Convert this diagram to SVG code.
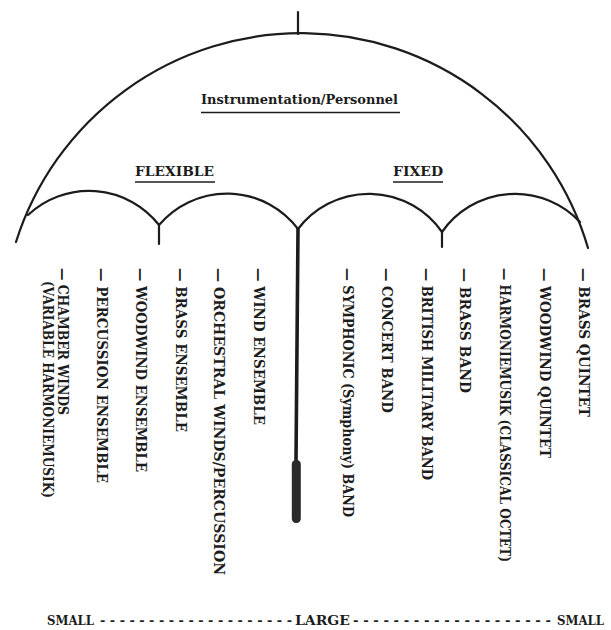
<svg xmlns="http://www.w3.org/2000/svg" width="611" height="630" viewBox="0 0 611 630">
<style>
.ln{fill:none;stroke:#1c1c1c;stroke-width:2.2;stroke-linecap:round;stroke-linejoin:round}
.t{font-family:"DejaVu Serif","Liberation Serif",serif;font-weight:bold;fill:#1c1c1c}
.lb{font-size:14px}
.hd{font-size:13px}
.bt{font-size:12px}
.ul{stroke:#1c1c1c;stroke-width:1.4}
</style>
<rect width="611" height="630" fill="#ffffff"/>
<g id="umbrella">
<path class="ln" d="M298 12 V34"/>
<path class="ln" d="M16 242 A299 299 0 0 1 588 248"/>
<path class="ln" d="M28 215 A89 89 0 0 1 159 225 A89 89 0 0 1 298 229 A89 89 0 0 1 442 232 A89 89 0 0 1 580 222"/>
<path class="ln" d="M159 225 V244 M442 232 V247"/>
<path class="ln" d="M298 229 L296 462" style="stroke-width:3.6"/>
<rect x="291.8" y="460" width="9" height="63" rx="4.2" fill="#2a2a2a"/>
</g>
<g id="headings">
<g id="title"><text class="t hd" x="201" y="104" textLength="197" lengthAdjust="spacingAndGlyphs">Instrumentation/Personnel</text><line class="ul" x1="201" y1="112.5" x2="400" y2="112.5"/></g>
<g id="flexible"><text class="t hd" x="135" y="176" textLength="79" lengthAdjust="spacingAndGlyphs">FLEXIBLE</text><line class="ul" x1="135" y1="182" x2="215" y2="182"/></g>
<g id="fixed"><text class="t hd" x="393" y="176" textLength="50" lengthAdjust="spacingAndGlyphs">FIXED</text><line class="ul" x1="393" y1="182" x2="443" y2="182"/></g>
</g>
<g id="labels">
<g id="chamber-winds"><text class="t lb" transform="translate(58,268) rotate(90)" textLength="147" lengthAdjust="spacingAndGlyphs">— CHAMBER WINDS</text><text class="t lb" transform="translate(43,281) rotate(90)" textLength="217" lengthAdjust="spacingAndGlyphs">(VARIABLE HARMONIEMUSIK)</text></g>
<g id="percussion-ensemble"><text class="t lb" transform="translate(96.5,268) rotate(90)" textLength="215" lengthAdjust="spacingAndGlyphs">— PERCUSSION ENSEMBLE</text></g>
<g id="woodwind-ensemble"><text class="t lb" transform="translate(136,268) rotate(90)" textLength="204" lengthAdjust="spacingAndGlyphs">— WOODWIND ENSEMBLE</text></g>
<g id="brass-ensemble"><text class="t lb" transform="translate(176,268) rotate(90)" textLength="164" lengthAdjust="spacingAndGlyphs">— BRASS ENSEMBLE</text></g>
<g id="orchestral-winds"><text class="t lb" transform="translate(214,268) rotate(90)" textLength="307" lengthAdjust="spacingAndGlyphs">— ORCHESTRAL WINDS/PERCUSSION</text></g>
<g id="wind-ensemble"><text class="t lb" transform="translate(254,268) rotate(90)" textLength="157" lengthAdjust="spacingAndGlyphs">— WIND ENSEMBLE</text></g>
<g id="symphonic-band"><text class="t lb" transform="translate(343,268) rotate(90)" textLength="249" lengthAdjust="spacingAndGlyphs">— SYMPHONIC (Symphony) BAND</text></g>
<g id="concert-band"><text class="t lb" transform="translate(382,268) rotate(90)" textLength="145" lengthAdjust="spacingAndGlyphs">— CONCERT BAND</text></g>
<g id="british-military-band"><text class="t lb" transform="translate(422,268) rotate(90)" textLength="212" lengthAdjust="spacingAndGlyphs">— BRITISH MILITARY BAND</text></g>
<g id="brass-band"><text class="t lb" transform="translate(460,268) rotate(90)" textLength="125" lengthAdjust="spacingAndGlyphs">— BRASS BAND</text></g>
<g id="harmoniemusik"><text class="t lb" transform="translate(500,268) rotate(90)" textLength="294" lengthAdjust="spacingAndGlyphs">— HARMONIEMUSIK (CLASSICAL OCTET)</text></g>
<g id="woodwind-quintet"><text class="t lb" transform="translate(540,268) rotate(90)" textLength="190" lengthAdjust="spacingAndGlyphs">— WOODWIND QUINTET</text></g>
<g id="brass-quintet"><text class="t lb" transform="translate(579,268) rotate(90)" textLength="149" lengthAdjust="spacingAndGlyphs">— BRASS QUINTET</text></g>
</g>
<g id="scale">
<text class="t bt" x="47" y="625" textLength="47" lengthAdjust="spacingAndGlyphs">SMALL</text>
<text class="t bt" x="100" y="625" textLength="192" lengthAdjust="spacingAndGlyphs">- - - - - - - - - - - - - - - - - - - -</text>
<text class="t bt" x="295" y="625" textLength="55" lengthAdjust="spacingAndGlyphs">LARGE</text>
<text class="t bt" x="353" y="625" textLength="198" lengthAdjust="spacingAndGlyphs">- - - - - - - - - - - - - - - - - - - -</text>
<text class="t bt" x="557" y="625" textLength="47" lengthAdjust="spacingAndGlyphs">SMALL</text>
</g>
</svg>
